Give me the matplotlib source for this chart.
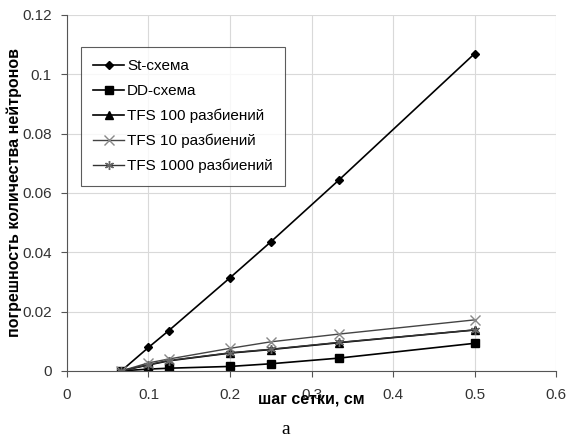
import matplotlib
matplotlib.use("Agg")
import matplotlib.pyplot as plt

plt.rcParams['font.family'] = ['Liberation Sans', 'DejaVu Sans']

# шаг сетки, см
steps = [0.0667, 0.1, 0.125, 0.2, 0.25, 0.3333, 0.5]

st_scheme = [0.0, 0.0079, 0.0136, 0.0314, 0.0435, 0.0643, 0.107]
dd_scheme = [0.0, 0.0006, 0.0009, 0.0015, 0.0024, 0.0043, 0.0093]
tfs_100 = [0.0, 0.0020, 0.0034, 0.0060, 0.0072, 0.0095, 0.0138]
tfs_10 = [0.0, 0.0027, 0.0040, 0.0076, 0.0098, 0.0124, 0.0172]
tfs_1000 = [0.0, 0.0021, 0.0035, 0.0061, 0.0073, 0.0096, 0.0138]

labels = ["St-схема", "DD-схема", "TFS 100 разбиений",
          "TFS 10 разбиений", "TFS 1000 разбиений"]

fig = plt.figure(figsize=(5.67, 4.41), dpi=100)
ax = fig.add_axes([0.118, 0.159, 0.863, 0.807])

ax.plot(steps, st_scheme, color="black", lw=1.2, marker="D", ms=4, label=labels[0])
ax.plot(steps, dd_scheme, color="black", lw=1.2, marker="s", ms=5.5, label=labels[1])
ax.plot(steps, tfs_100, color="black", lw=1.2, marker="^", ms=6, label=labels[2])
ax.plot(steps, tfs_10, color="#444444", lw=1.0, marker="x", ms=6.5, mec="#888888",
        label=labels[3])
ax.plot(steps, tfs_1000, color="#333333", lw=1.0, marker=(6, 2, 0), ms=6.5,
        mec="#666666", label=labels[4])

ax.set_xlim(0, 0.6)
ax.set_ylim(0, 0.12)
ax.set_xticks([0, 0.1, 0.2, 0.3, 0.4, 0.5, 0.6])
ax.set_xticklabels(["0", "0.1", "0.2", "0.3", "0.4", "0.5", "0.6"])
ax.set_yticks([0, 0.02, 0.04, 0.06, 0.08, 0.1, 0.12])
ax.set_yticklabels(["0", "0.02", "0.04", "0.06", "0.08", "0.1", "0.12"])
ax.grid(True, color="#d9d9d9", lw=0.8)
ax.set_axisbelow(True)
for s in ["top", "right"]:
    ax.spines[s].set_visible(False)
for s in ["left", "bottom"]:
    ax.spines[s].set_color("#555555")
ax.tick_params(direction="out", length=4, colors="#555555", labelsize=11,
               labelcolor="#333333")
ax.tick_params(axis="x", pad=8)
ax.tick_params(axis="y", pad=7)

ax.set_xlabel("шаг сетки, см", fontsize=11.5, fontweight="bold", labelpad=-7)
ax.set_ylabel("погрешность количества нейтронов", fontsize=11.5,
              fontweight="bold", labelpad=0)

leg = ax.legend(loc="upper left", bbox_to_anchor=(0.029, 0.91), fontsize=11,
                frameon=True, fancybox=False, edgecolor="#333333",
                handlelength=2.0, handletextpad=0.2, labelspacing=0.7,
                borderpad=0.8, borderaxespad=0)
leg.get_frame().set_linewidth(0.8)

fig.text(0.503, 0.016, "а", family=["Liberation Serif", "DejaVu Serif"],
         fontsize=14, ha="center")

fig.savefig("out.png", dpi=100)
